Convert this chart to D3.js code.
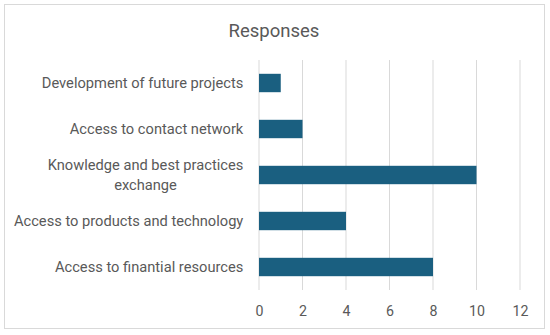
<!DOCTYPE html>
<html><head><meta charset="utf-8">
<script src="https://cdn.jsdelivr.net/npm/d3@7"></script>
<style>body{margin:0;background:#fff;} text{font-family:Roboto,sans-serif;}</style>
</head><body><svg id="c" width="550" height="335"></svg>
<script>
const categories = ["Development of future projects","Access to contact network","Knowledge and best practices exchange","Access to products and technology","Access to finantial resources"];
const labelLines = [["Development of future projects"],["Access to contact network"],["Knowledge and best practices","exchange"],["Access to products and technology"],["Access to finantial resources"]];
const values = [1,2,10,4,8];
const ticks = [0,2,4,6,8,10,12];
const title = "Responses";

const svg = d3.select("#c");
svg.append("rect").attr("x",4.5).attr("y",4.5).attr("width",540).attr("height",324)
  .attr("fill","#fff").attr("stroke","#d9d9d9");
const x = d3.scaleLinear().domain([0,12]).range([259,520]);
const y = d3.scaleBand().domain(categories).range([60,290]).paddingInner(0.6).paddingOuter(0.3);

svg.append("g").selectAll("line").data(ticks).join("line")
  .attr("x1",d=>x(d)).attr("x2",d=>x(d)).attr("y1",60).attr("y2",290)
  .attr("stroke","#d9d9d9").attr("stroke-width",1);

svg.append("g").selectAll("rect").data(values).join("rect")
  .attr("x",x(0)).attr("y",(d,i)=>y(categories[i]))
  .attr("width",d=>x(d)-x(0)).attr("height",y.bandwidth())
  .attr("fill","#1a5f80");

const xa = svg.append("g").attr("transform","translate(0,290)")
  .call(d3.axisBottom(x).tickValues(ticks).tickSize(0).tickPadding(0));
xa.select(".domain").remove();
xa.selectAll("text").attr("font-size",14.2).attr("fill","#595959").attr("font-family","Roboto")
  .attr("dy",null).attr("y",25.7);

const lg = svg.append("g");
labelLines.forEach((lines,i)=>{
  const cy = y(categories[i]) + y.bandwidth()/2;
  const n = lines.length;
  const t = lg.append("text").attr("font-size",14.66).attr("fill","#595959");
  lines.forEach((ln,j)=>{
    t.append("tspan").text(ln).attr("y", cy + (j-(n-1)/2)*20 + 4.8);
  });
  const tsp = t.selectAll("tspan").nodes();
  const widths = tsp.map(s=>s.getComputedTextLength());
  const maxW = Math.max(...widths);
  const right = 243.3;
  tsp.forEach(s=>{ d3.select(s).attr("x", right - maxW/2).attr("text-anchor","middle"); });
});

svg.append("text").attr("x",274).attr("y",36.7).attr("text-anchor","middle")
  .attr("font-size",18.5).attr("fill","#595959").text(title);
</script></body></html>
